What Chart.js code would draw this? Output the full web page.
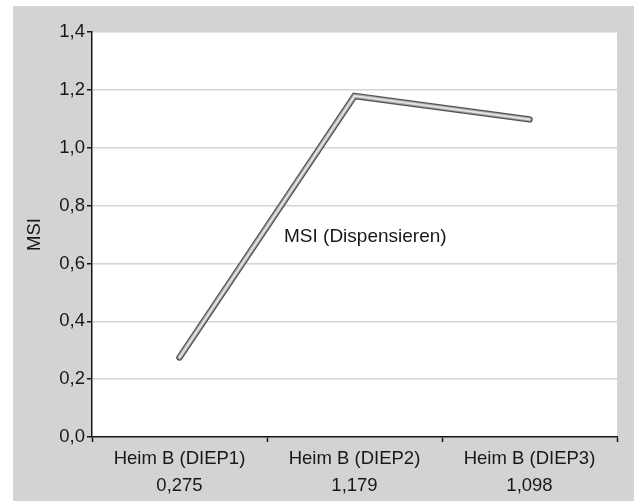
<!DOCTYPE html>
<html>
<head>
<meta charset="utf-8">
<script src="https://cdn.jsdelivr.net/npm/chart.js@4.4.0/dist/chart.umd.min.js"></script>
<style>
  html, body { margin: 0; padding: 0; background: #fff; }
  #box {
    position: absolute; left: 13px; top: 6px;
    width: 621px; height: 495px;
    background: #d2d3d5;
  }
</style>
</head>
<body>
<div id="box"><canvas id="msiChart"></canvas></div>
<script>
// chart data
var categories = ['Heim B (DIEP1)', 'Heim B (DIEP2)', 'Heim B (DIEP3)'];
var msiValues = [0.275, 1.179, 1.098];
var valueLabels = ['0,275', '1,179', '1,098'];
var seriesName = 'MSI (Dispensieren)';
var yMin = 0, yMax = 1.4, yStep = 0.2;

var ink = '#1a1718';
var fontFamily = '"Liberation Sans", Arial, sans-serif';

// white plot area + series label
var plotBackground = {
    id: 'plotBackground',
    beforeDraw: function(chart) {
        var a = chart.chartArea, ctx = chart.ctx;
        ctx.save();
        ctx.fillStyle = '#ffffff';
        ctx.fillRect(a.left, a.top, a.right - a.left, a.bottom - a.top);
        ctx.restore();
    },
    afterDraw: function(chart) {
        var a = chart.chartArea, ctx = chart.ctx;
        ctx.save();
        ctx.fillStyle = ink;
        ctx.font = '19px ' + fontFamily;
        ctx.textBaseline = 'middle';
        ctx.fillText(seriesName, a.left + 192, a.top + 205);
        ctx.restore();
    }
};

// the "tube" look: three strokes of the same series, light on top
function tubeLayer(color, width, order) {
    return {
        label: seriesName,
        data: msiValues,
        order: order,
        borderColor: color,
        borderWidth: width,
        borderCapStyle: 'round',
        borderJoinStyle: 'miter',
        pointRadius: 0,
        fill: false
    };
}

window.onload = function() {
    var ctx = document.getElementById('msiChart').getContext('2d');
    var labels = categories.map(function(c, i) { return [c, valueLabels[i]]; });

    new Chart(ctx, {
        type: 'line',
        data: {
            labels: labels,
            datasets: [
                tubeLayer('#e6e6e6', 1.8, 1),
                tubeLayer('#a8a8a8', 4, 2),
                tubeLayer('#555555', 6.5, 3)
            ]
        },
        options: {
            responsive: true,
            maintainAspectRatio: false,
            animation: false,
            layout: { padding: { top: 26, right: 17, left: 0, bottom: 0 } },
            plugins: {
                legend: { display: false },
                tooltip: { enabled: false }
            },
            scales: {
                x: {
                    offset: true,
                    grid: { offset: true, drawOnChartArea: false, tickColor: ink, tickLength: 5, tickWidth: 1.5 },
                    border: { color: ink, width: 1.5 },
                    ticks: { color: ink, font: { family: fontFamily, size: 18.5, lineHeight: 1.46 }, padding: 3, maxRotation: 0 },
                    afterFit: function(scale) { scale.height = 64; }
                },
                y: {
                    min: yMin,
                    max: yMax,
                    grid: { color: '#d4d4d4', lineWidth: 1.5, tickColor: ink, tickLength: 5 },
                    border: { color: ink, width: 1.5 },
                    ticks: {
                        stepSize: yStep,
                        color: ink,
                        font: { family: fontFamily, size: 18.5 },
                        padding: 2,
                        callback: function(v) { return v.toFixed(1).replace('.', ','); }
                    },
                    title: {
                        display: true,
                        text: 'MSI',
                        color: ink,
                        font: { family: fontFamily, size: 18.5 },
                        padding: { top: 11, bottom: 0 }
                    },
                    afterFit: function(scale) { scale.width = 79; }
                }
            }
        },
        plugins: [plotBackground]
    });
};
</script>
</body>
</html>
